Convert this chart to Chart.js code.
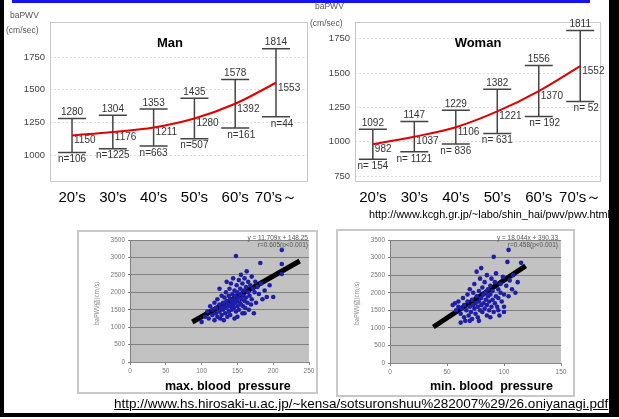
<!DOCTYPE html>
<html>
<head>
<meta charset="utf-8">
<script src="https://cdn.jsdelivr.net/npm/chart.js@4.4.0/dist/chart.umd.min.js"></script>
<style>
body { margin:0; width:619px; height:419px; position:relative; background:#fff; overflow:hidden; font-family:"Liberation Sans", Arial, sans-serif; }
.abs { position:absolute; white-space:pre; }
canvas { position:absolute; }
.frame { position:absolute; border:2px solid #c8c8c8; box-sizing:border-box; }
</style>
</head>
<body>

<!-- slide frame -->
<div class="abs" style="left:12px;top:0;width:578px;height:3px;background:#1414f0"></div>
<div class="abs" style="left:0;top:0;width:4px;height:417px;background:#000"></div>
<div class="abs" style="left:609px;top:0;width:10px;height:417px;background:#000"></div>
<div class="abs" style="left:0;top:413px;width:619px;height:4px;background:#000"></div>

<canvas id="manChart" width="310" height="215" style="left:0;top:0"></canvas>
<canvas id="womanChart" width="310" height="215" style="left:300px;top:0"></canvas>

<div class="abs" style="left:10px;top:10px;font-size:8.5px;color:#555">baPWV</div>
<div class="abs" style="left:6px;top:25px;font-size:8.5px;color:#555">(cm/sec)</div>
<div class="abs" style="left:315px;top:1px;font-size:8.5px;color:#555">baPWV</div>
<div class="abs" style="left:310px;top:18px;font-size:8.5px;color:#555">(cm/sec)</div>

<div class="abs" style="left:300px;top:208px;width:310px;text-align:right;font-size:10.9px;color:#000">http://www.kcgh.gr.jp/~labo/shin_hai/pwv/pwv.html</div>

<div class="frame" style="left:77px;top:230px;width:241px;height:164px"></div>
<div class="frame" style="left:336px;top:229px;width:239px;height:168px"></div>
<canvas id="sbpChart" width="241" height="164" style="left:77px;top:230px"></canvas>
<canvas id="dbpChart" width="239" height="168" style="left:336px;top:229px"></canvas>

<div class="abs" style="left:233px;top:234px;font-size:6.5px;color:#555;width:75px;text-align:right">y = 11.709x + 148.25</div>
<div class="abs" style="left:233px;top:241px;font-size:6.5px;color:#555;width:75px;text-align:right">r=0.605(p&lt;0.001)</div>
<div class="abs" style="left:483px;top:234px;font-size:6.5px;color:#555;width:75px;text-align:right">y = 18.044x + 390.33</div>
<div class="abs" style="left:483px;top:241px;font-size:6.5px;color:#555;width:75px;text-align:right">r=0.458(p&lt;0.001)</div>

<div class="abs" style="left:92px;top:325px;font-size:6px;color:#888;transform:rotate(-90deg);transform-origin:0 0;font-family:'Noto Sans CJK JP'">baPWV値(cm/s)</div>
<div class="abs" style="left:352px;top:325px;font-size:6px;color:#888;transform:rotate(-90deg);transform-origin:0 0;font-family:'Noto Sans CJK JP'">baPWV値(cm/s)</div>

<div class="abs" style="left:165px;top:379px;font-size:12.5px;font-weight:bold;color:#000">max. blood  pressure</div>
<div class="abs" style="left:430px;top:379px;font-size:12.5px;font-weight:bold;color:#000">min. blood  pressure</div>

<div class="abs" style="left:114px;top:396px;font-size:13.5px;color:#000;text-decoration:underline">http://www.hs.hirosaki-u.ac.jp/~kensa/sotsuronshuu%282007%29/26.oniyanagi.pdf</div>

<script>
// age groups and baPWV (mean, mean+SD, n)
var ageLabels = ["20\u2019s", "30\u2019s", "40\u2019s", "50\u2019s", "60\u2019s", "70\u2019s\uff5e"];

var manMean = [1150, 1176, 1211, 1280, 1392, 1553];
var manUpper = [1280, 1304, 1353, 1435, 1578, 1814];
var manN = [106, 1225, 663, 507, 161, 44];
var manTicks = [1000, 1250, 1500, 1750];

var womanMean = [982, 1037, 1106, 1221, 1370, 1552];
var womanUpper = [1092, 1147, 1229, 1382, 1556, 1811];
var womanN = [154, 1121, 836, 631, 192, 52];
var womanTicks = [750, 1000, 1250, 1500, 1750];

// scatter: [blood pressure, baPWV]
var sbpPoints = [[105,1300],[108,1450],[110,1250],[112,1600],[115,1350],[115,1500],[118,1200],[118,1700],[120,1400],[120,1550],
  [122,1300],[122,1800],[125,1450],[125,1650],[126,1250],[127,1550],[128,1900],[128,1350],[130,1500],[130,1700],
  [131,1200],[132,1600],[132,1850],[133,1400],[134,2000],[135,1550],[135,1750],[136,1300],[137,1650],[138,1900],
  [138,1450],[139,2100],[140,1600],[140,1800],[140,1350],[141,2250],[142,1700],[142,1500],[143,1950],[144,1650],
  [144,2400],[145,1800],[145,1550],[146,2050],[146,1250],[147,1700],[147,1900],[148,3040],[148,1450],[149,2200],
  [150,1750],[150,1600],[150,2000],[151,1850],[152,2350],[152,1500],[153,1700],[154,2100],[154,1950],[155,1650],
  [155,2500],[156,1800],[157,1400],[157,2250],[158,1900],[158,1600],[159,2050],[160,1750],[160,2400],[161,1550],
  [162,2150],[162,1850],[163,2600],[164,1700],[165,2000],[165,2300],[166,1500],[167,1900],[168,2200],[169,1650],
  [170,2450],[170,1800],[172,2100],[173,1400],[174,2000],[175,2300],[176,1700],[178,2150],[180,1950],[182,2840],
  [183,2250],[185,1800],[188,2050],[191,1865],[195,2200],[200,1865],[212,3213],[212,2811],[212,2524],[100,1150],
  [125,2100],[135,2300],[150,1300],[160,1400]];
var dbpPoints = [[55,1650],[57,1700],[58,1500],[60,1600],[60,1750],[62,1400],[63,1550],[64,1850],[65,1300],[65,1650],
  [66,1200],[67,1500],[68,1750],[68,1950],[69,1350],[70,1600],[70,2100],[71,1450],[72,1800],[72,1250],
  [73,1650],[73,2000],[74,1550],[74,2250],[75,1700],[75,1400],[76,1900],[76,2600],[77,1600],[77,1300],
  [78,2050],[78,1750],[79,1500],[79,2400],[80,1850],[80,1650],[80,2700],[81,1450],[81,2150],[82,1950],
  [82,1700],[83,1550],[83,2300],[84,1800],[84,2000],[85,1350],[85,1650],[85,2500],[86,1900],[86,2100],
  [87,1750],[87,1500],[88,2200],[88,1950],[89,1600],[89,2400],[90,1800],[90,2050],[91,3020],[91,1450],
  [92,1700],[92,2300],[93,1900],[93,2550],[94,1600],[95,2100],[95,1850],[96,1350],[97,2000],[97,2250],
  [98,1750],[99,2450],[100,1950],[100,1600],[102,2200],[103,2877],[104,3219],[104,1900],[105,2350],[107,2100],
  [108,2500],[110,2000],[112,2300],[115,2850],[62,1150],[70,1200],[78,1200],[88,1300],[95,1500],[100,1450]];

// hand drawn trend lines (end points)
var sbpLine = [[87, 1147], [237, 2897]];
var dbpLine = [[38, 1024], [119, 2763]];

var sbpTicks = [0, 50, 100, 150, 200, 250];
var dbpTicks = [0, 50, 100, 150];

// draws mean +/- SD bars with the value labels, plus the box round the plot
var errorBarPlugin = {
    id: 'errorBars',
    beforeDatasetsDraw: function (chart) {
        var o = chart.options.plugins.errorBars;
        if (!o) return;
        var ctx = chart.ctx;
        var xs = chart.scales.x, ys = chart.scales.y;
        var a = chart.chartArea;

        ctx.save();
        ctx.strokeStyle = '#c8c8c8';
        ctx.lineWidth = 1;
        ctx.strokeRect(a.left + 0.5, a.top + 0.5, a.right - a.left, a.bottom - a.top);

        ctx.strokeStyle = '#444';
        ctx.lineWidth = 1.5;
        ctx.fillStyle = '#333';
        ctx.font = '10px "Liberation Sans", Arial';
        for (var i = 0; i < o.mean.length; i++) {
            var x = xs.getPixelForValue(i);
            var sd = o.upper[i] - o.mean[i];
            var yTop = ys.getPixelForValue(o.upper[i]);
            var yBot = ys.getPixelForValue(o.mean[i] - sd);
            var yMid = ys.getPixelForValue(o.mean[i]);

            ctx.beginPath();
            ctx.moveTo(x, yTop); ctx.lineTo(x, yBot);
            ctx.moveTo(x - 14, yTop); ctx.lineTo(x + 14, yTop);
            ctx.moveTo(x - 14, yBot); ctx.lineTo(x + 14, yBot);
            ctx.stroke();

            ctx.textAlign = 'center';
            ctx.textBaseline = 'bottom';
            ctx.fillText(String(o.upper[i]), x, yTop - 1);
            ctx.textBaseline = 'top';
            ctx.fillText(o.nPrefix + o.n[i], x + (i >= 4 ? 6 : 0), yBot + 2);
            ctx.textAlign = 'left';
            ctx.textBaseline = 'middle';
            ctx.fillText(String(o.mean[i]), x + 2, yMid + 5);
        }

        ctx.fillStyle = '#000';
        ctx.font = 'bold 13px "Liberation Sans", Arial';
        ctx.textAlign = 'center';
        ctx.textBaseline = 'middle';
        ctx.fillText(o.title, o.titleX, a.top + 21);
        ctx.restore();
    }
};

// grey plot background for the scatter charts
var plotBgPlugin = {
    id: 'plotBg',
    beforeDraw: function (chart) {
        if (!chart.options.plugins.plotBg) return;
        var a = chart.chartArea;
        chart.ctx.save();
        chart.ctx.fillStyle = '#c2c2c2';
        chart.ctx.fillRect(a.left, a.top, a.right - a.left, a.bottom - a.top);
        chart.ctx.restore();
    }
};

function fixedTicks(list) {
    return function (scale) {
        scale.ticks = list.map(function (v) { return { value: v }; });
    };
}

function plain(v) { return String(v); }

function makeAgeChart(id, mean, upper, n, nPrefix, ticks, yMin, yMax, xMin, xMax, yWidth, padRight, title, titleX) {
    var pts = mean.map(function (v, i) { return { x: i, y: v }; });
    var idx = ageLabels.map(function (l, i) { return i; });
    return new Chart(document.getElementById(id), {
        type: 'line',
        data: {
            datasets: [{
                data: pts,
                borderColor: '#e00000',
                borderWidth: 2,
                pointRadius: 0,
                cubicInterpolationMode: 'monotone'
            }]
        },
        options: {
            responsive: false,
            animation: false,
            layout: { padding: { top: 22, right: padRight, left: 0, bottom: 0 } },
            plugins: {
                legend: { display: false },
                tooltip: { enabled: false },
                errorBars: { mean: mean, upper: upper, n: n, nPrefix: nPrefix, title: title, titleX: titleX }
            },
            scales: {
                x: {
                    type: 'linear', min: xMin, max: xMax,
                    afterBuildTicks: fixedTicks(idx),
                    afterFit: function (s) { s.height = 34; },
                    grid: { display: false, drawTicks: false },
                    border: { display: false },
                    ticks: {
                        autoSkip: false, maxRotation: 0, padding: 8,
                        color: '#000', font: { size: 15, family: '"Liberation Sans", Arial' },
                        callback: function (v) { return ageLabels[v]; }
                    }
                },
                y: {
                    min: yMin, max: yMax,
                    afterBuildTicks: fixedTicks(ticks),
                    afterFit: function (s) { s.width = yWidth; },
                    grid: { color: '#dcdcdc', drawTicks: false, lineWidth: 1 },
                    border: { display: false, dash: [2, 2] },
                    ticks: { padding: 5, color: '#444', font: { size: 9.5, family: '"Liberation Sans", Arial' }, callback: plain }
                }
            }
        },
        plugins: [errorBarPlugin]
    });
}

function makeScatter(id, points, line, xTicks, xMax, yWidth, xHeight, padTop, padRight) {
    return new Chart(document.getElementById(id), {
        type: 'scatter',
        data: {
            datasets: [{
                data: points.map(function (p) { return { x: p[0], y: p[1] }; }),
                pointRadius: 2.3,
                pointBackgroundColor: '#1e1ea8',
                pointBorderWidth: 0
            }, {
                type: 'line',
                data: line.map(function (p) { return { x: p[0], y: p[1] }; }),
                borderColor: '#000',
                borderWidth: 5,
                pointRadius: 0,
                borderCapStyle: 'butt'
            }]
        },
        options: {
            responsive: false,
            animation: false,
            layout: { padding: { top: padTop, right: padRight, left: 0, bottom: 0 } },
            plugins: { legend: { display: false }, tooltip: { enabled: false }, plotBg: true },
            scales: {
                x: {
                    type: 'linear', min: 0, max: xMax,
                    afterBuildTicks: fixedTicks(xTicks),
                    afterFit: function (s) { s.height = xHeight; },
                    grid: { drawOnChartArea: false, tickLength: 3, color: '#888' },
                    border: { color: '#888' },
                    ticks: { padding: 2, color: '#777', font: { size: 6.5 }, callback: plain }
                },
                y: {
                    min: 0, max: 3500,
                    ticks: { stepSize: 500, padding: 3, color: '#777', font: { size: 6.5 }, callback: plain },
                    afterFit: function (s) { s.width = yWidth; },
                    grid: { color: '#808080', tickLength: 2, lineWidth: 1 },
                    border: { color: '#808080' }
                }
            }
        },
        plugins: [plotBgPlugin]
    });
}

makeAgeChart('manChart', manMean, manUpper, manN, 'n=', manTicks, 801, 2018, -0.54, 5.76, 50, 3, 'Man', 170);
makeAgeChart('womanChart', womanMean, womanUpper, womanN, 'n= ', womanTicks, 714, 1873, -0.43, 5.48, 55, 8, 'Woman', 178);
makeScatter('sbpChart', sbpPoints, sbpLine, sbpTicks, 250, 53, 32, 10, 9);
makeScatter('dbpChart', dbpPoints, dbpLine, dbpTicks, 150, 54, 34, 11, 14);
</script>
</body>
</html>
